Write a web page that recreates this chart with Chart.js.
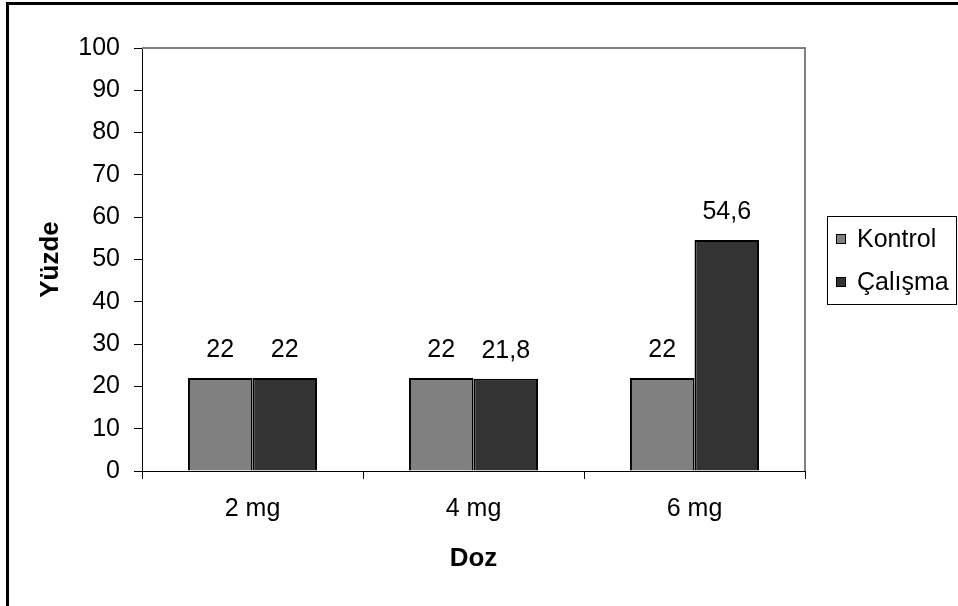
<!DOCTYPE html>
<html>
<head>
<meta charset="utf-8">
<script src="https://cdn.jsdelivr.net/npm/chart.js@4"></script>
<style>
  body { margin: 0; background: #fff; }
  #wrap { width: 958px; height: 606px; }
</style>
</head>
<body>
<div id="wrap"><canvas id="myChart" width="958" height="606"></canvas></div>
<script>
const doses = ['2 mg', '4 mg', '6 mg'];
const kontrol = [22, 22, 22];
const calisma = [22, 21.8, 54.6];
const seriesNames = ['Kontrol', 'Çalışma'];
const seriesColors = ['#808080', '#333333'];

const fontFamily = '"Liberation Sans", Arial, sans-serif';

// frame, plot border, value labels and legend box
const extras = {
    id: 'extras',
    afterDraw(chart) {
        const ctx = chart.ctx;
        const area = chart.chartArea;
        ctx.save();

        // outer frame (left & top visible)
        ctx.fillStyle = '#000';
        ctx.fillRect(6, 2, 3, 604);
        ctx.fillRect(6, 2, 952, 3);

        // top / right plot border
        ctx.strokeStyle = '#808080';
        ctx.lineWidth = 2;
        ctx.beginPath();
        ctx.moveTo(area.left, area.top);
        ctx.lineTo(area.right, area.top);
        ctx.lineTo(area.right, area.bottom);
        ctx.stroke();

        // value labels
        ctx.fillStyle = '#000';
        ctx.font = '25px ' + fontFamily;
        ctx.textAlign = 'center';
        ctx.textBaseline = 'alphabetic';
        chart.data.datasets.forEach((ds, i) => {
            chart.getDatasetMeta(i).data.forEach((bar, j) => {
                const txt = String(ds.data[j]).replace('.', ',');
                ctx.fillText(txt, bar.x, bar.y - 21);
            });
        });

        // legend
        ctx.lineWidth = 1;
        ctx.strokeStyle = '#000';
        ctx.strokeRect(827.5, 216.5, 129, 88);
        ctx.textAlign = 'left';
        ctx.textBaseline = 'middle';
        const rows = [239, 282];
        chart.data.datasets.forEach((ds, i) => {
            ctx.fillStyle = ds.backgroundColor;
            ctx.fillRect(836, rows[i] - 5, 10, 10);
            ctx.strokeRect(836.5, rows[i] - 4.5, 9, 9);
            ctx.fillStyle = '#000';
            ctx.fillText(ds.label, 857, rows[i] + 1);
        });

        ctx.restore();
    }
};

const ctx = document.getElementById('myChart');

new Chart(ctx, {
    type: 'bar',
    data: {
        labels: doses,
        datasets: [{
            label: seriesNames[0],
            data: kontrol,
            backgroundColor: seriesColors[0],
            borderColor: '#000',
            borderWidth: 2,
            categoryPercentage: 0.584,
            barPercentage: 1
        }, {
            label: seriesNames[1],
            data: calisma,
            backgroundColor: seriesColors[1],
            borderColor: '#000',
            borderWidth: 2,
            categoryPercentage: 0.584,
            barPercentage: 1
        }]
    },
    options: {
        responsive: false,
        animation: false,
        devicePixelRatio: 1,
        layout: {
            padding: { left: 31, top: 48, right: 153, bottom: 28 }
        },
        plugins: {
            legend: { display: false },
            tooltip: { enabled: false }
        },
        scales: {
            x: {
                grid: {
                    offset: true,
                    drawOnChartArea: false,
                    drawTicks: true,
                    tickLength: 8,
                    color: '#000'
                },
                border: { color: '#000', width: 1 },
                ticks: {
                    color: '#000',
                    padding: 15,
                    font: { family: fontFamily, size: 25 }
                },
                title: {
                    display: true,
                    text: 'Doz',
                    color: '#000',
                    font: { family: fontFamily, size: 26, weight: 'bold' }
                },
                afterFit: function (scale) {
                    scale.height = 107;
                }
            },
            y: {
                min: 0,
                max: 100,
                grid: {
                    drawOnChartArea: false,
                    drawTicks: true,
                    tickLength: 8,
                    color: '#000'
                },
                border: { color: '#000', width: 1 },
                ticks: {
                    stepSize: 10,
                    color: '#000',
                    padding: 14,
                    font: { family: fontFamily, size: 25 }
                },
                title: {
                    display: true,
                    text: 'Yüzde',
                    color: '#000',
                    font: { family: fontFamily, size: 26, weight: 'bold' }
                },
                afterFit: function (scale) {
                    scale.width = 111;
                }
            }
        }
    },
    plugins: [extras]
});
</script>
</body>
</html>
